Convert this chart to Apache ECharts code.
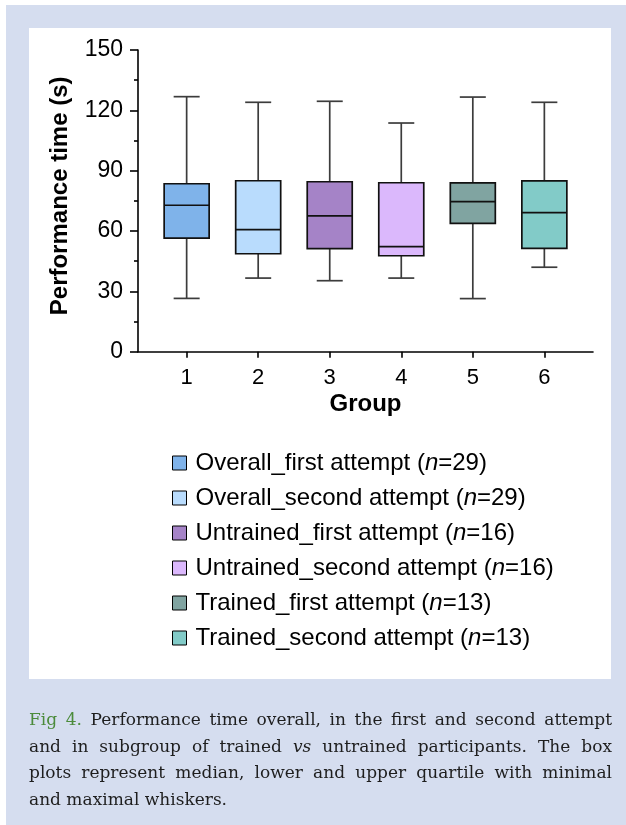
<!DOCTYPE html>
<html>
<head>
<meta charset="utf-8">
<script src="https://cdn.jsdelivr.net/npm/echarts@6/dist/echarts.min.js"></script>
<style>
html,body{margin:0;padding:0;width:626px;height:825px;background:#fff;overflow:hidden;}
#bg{position:absolute;left:6px;top:5px;width:620px;height:820px;background:#d5ddef;}
#panel{position:absolute;left:29px;top:28px;width:582px;height:651px;background:#fff;}
#chart{position:absolute;left:0;top:0;width:626px;height:825px;}
#caption{position:absolute;left:29px;top:706px;width:583px;font-family:"DejaVu Serif",serif;font-size:17px;line-height:26.5px;color:#1e1e1e;}
#caption .l{text-align:justify;text-align-last:justify;}
#caption .last{text-align:left;}
#caption .fig{color:#4b8b3b;}
</style>
</head>
<body>
<div id="bg"></div>
<div id="panel"></div>
<div id="chart"></div>
<div id="caption">
<div class="l"><span class="fig">Fig 4.</span> Performance time overall, in the first and second attempt</div>
<div class="l">and in subgroup of trained <i>vs</i> untrained participants. The box</div>
<div class="l">plots represent median, lower and upper quartile with minimal</div>
<div class="last">and maximal whiskers.</div>
</div>
<script>
// ---- data ----
const groups = [1, 2, 3, 4, 5, 6];
const seriesNames = ['Overall_first attempt', 'Overall_second attempt', 'Untrained_first attempt',
  'Untrained_second attempt', 'Trained_first attempt', 'Trained_second attempt'];
const sampleSizes = [29, 29, 16, 16, 13, 13];
const minValues = [26.5, 36.6, 35.3, 36.6, 26.4, 42.0];
const q1Values = [56.5, 48.7, 51.2, 47.7, 63.8, 51.4];
const medianValues = [72.8, 60.7, 67.5, 52.2, 74.6, 69.1];
const q3Values = [83.5, 85.0, 84.5, 84.0, 83.9, 84.9];
const maxValues = [126.8, 124.0, 124.5, 113.7, 126.6, 124.0];
const colors = ['#7fb3ea', '#b9dcfd', '#a583c7', '#dbb8fc', '#80a4a1', '#82cbc8'];

const FONT = '"Liberation Sans", Arial, sans-serif';

function renderBox(params, api) {
  const g = api.value(0);
  const lo = api.coord([g, api.value(1)]);
  const q1 = api.coord([g, api.value(2)]);
  const md = api.coord([g, api.value(3)]);
  const q3 = api.coord([g, api.value(4)]);
  const hi = api.coord([g, api.value(5)]);
  const x = lo[0];
  const hb = 22.5, hc = 13;
  const wStyle = {stroke: '#3c3c3c', lineWidth: 1.7};
  const bStyle = {stroke: '#111', lineWidth: 1.7};
  return {
    type: 'group',
    children: [
      {type: 'line', shape: {x1: x, y1: q3[1], x2: x, y2: hi[1]}, style: wStyle},
      {type: 'line', shape: {x1: x - hc, y1: hi[1], x2: x + hc, y2: hi[1]}, style: wStyle},
      {type: 'line', shape: {x1: x, y1: q1[1], x2: x, y2: lo[1]}, style: wStyle},
      {type: 'line', shape: {x1: x - hc, y1: lo[1], x2: x + hc, y2: lo[1]}, style: wStyle},
      {type: 'rect', shape: {x: x - hb, y: q3[1], width: 2 * hb, height: q1[1] - q3[1]},
        style: Object.assign({fill: api.visual('color')}, bStyle)},
      {type: 'line', shape: {x1: x - hb, y1: md[1], x2: x + hb, y2: md[1]}, style: bStyle}
    ]
  };
}

const nameToN = {};
seriesNames.forEach((n, i) => { nameToN[n] = sampleSizes[i]; });

const chart = echarts.init(document.getElementById('chart'), null, {renderer: 'canvas'});
chart.setOption({
  animation: false,
  backgroundColor: 'transparent',
  grid: {left: 138, right: 33, top: 50, bottom: 473.3, containLabel: false},
  xAxis: {
    type: 'value', min: 0.32, max: 6.68,
    axisLine: {show: true, lineStyle: {color: '#000', width: 1.6}},
    axisTick: {show: true, customValues: groups, length: 6, lineStyle: {color: '#000', width: 1.6}},
    axisLabel: {show: true, customValues: groups, fontSize: 22, color: '#000', margin: 15, fontFamily: FONT},
    splitLine: {show: false},
    name: 'Group', nameLocation: 'middle', nameGap: 41,
    nameTextStyle: {fontSize: 24, fontWeight: 'bold', color: '#000', fontFamily: FONT}
  },
  yAxis: {
    type: 'value', min: 0, max: 150, interval: 30,
    axisLine: {show: true, lineStyle: {color: '#000', width: 1.6}},
    axisTick: {show: true, length: 8, lineStyle: {color: '#000', width: 1.6}},
    minorTick: {show: true, splitNumber: 2, length: 4, lineStyle: {color: '#000', width: 1.6}},
    axisLabel: {fontSize: 23, color: '#000', margin: 15, fontFamily: FONT},
    splitLine: {show: false},
    minorSplitLine: {show: false},
    name: 'Performance time (s)', nameLocation: 'middle', nameGap: 66,
    nameTextStyle: {fontSize: 24, fontWeight: 'bold', color: '#000', fontFamily: FONT, padding: [0, 0, 0, 10]}
  },
  legend: {
    orient: 'vertical', left: 172, top: 451, padding: 0,
    itemWidth: 14, itemHeight: 14, itemGap: 11, icon: 'rect',
    selectedMode: false,
    itemStyle: {borderColor: '#000', borderWidth: 1},
    data: seriesNames,
    formatter: function (name) { return name + ' ({i|n}=' + nameToN[name] + ')'; },
    textStyle: {fontSize: 24, color: '#000', fontFamily: FONT, lineHeight: 22, padding: [0, 0, 0, 4],
      rich: {i: {fontSize: 24, fontStyle: 'italic', color: '#000', fontFamily: FONT, lineHeight: 22}}}
  },
  series: groups.map((g, i) => ({
    type: 'custom',
    name: seriesNames[i],
    renderItem: renderBox,
    itemStyle: {color: colors[i]},
    encode: {x: 0, y: [1, 2, 3, 4, 5]},
    data: [[g, minValues[i], q1Values[i], medianValues[i], q3Values[i], maxValues[i]]]
  }))
});
</script>
</body>
</html>
